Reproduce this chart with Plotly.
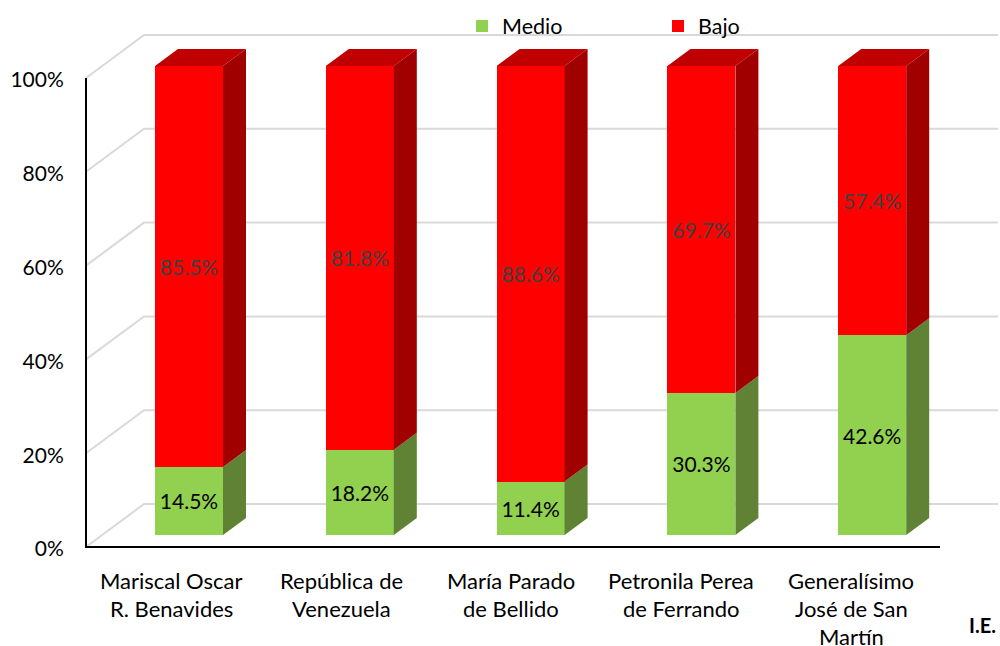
import plotly.graph_objects as go

categories = ["Mariscal Oscar<br>R. Benavides", "República de<br>Venezuela", "María Parado<br>de Bellido",
              "Petronila Perea<br>de Ferrando", "Generalísimo<br>José de San<br>Martín"]
medio = [14.5, 18.2, 11.4, 30.3, 42.6]
bajo = [85.5, 81.8, 88.6, 69.7, 57.4]
y_ticks = [0, 20, 40, 60, 80, 100]

FONT = "Lato"
GREEN, GREEN_SIDE = "#92D050", "#5F8235"
RED, RED_SIDE, RED_TOP = "#FF0000", "#A00000", "#C00000"
GRID = "#D9D9D9"

W, H = 1000, 646
PAD = 6        # spare px left of and below the axis lines so they are not clipped
L, R, T, B = 86 - PAD, 0, 20, 99 - PAD
PX_X = 170.8   # px per category
PX_Y = 4.69    # px per percent
x_range = [-0.5 - PAD / PX_X, -0.5 + (W - 86 - R) / PX_X]
y_range = [-PAD / PX_Y, (H - T - 99) / PX_Y]

# depth of the walls and of the bars, axis units
wall_dx, wall_dy = 58 / PX_X, 43 / PX_Y
bar_dx, bar_dy = 23 / PX_X, 17 / PX_Y
shift_x, shift_y = 17.6 / PX_X, 12 / PX_Y
bar_w = 68 / PX_X
label_step = 170 / PX_X   # the category labels sit a little tighter than the bars
xs = list(range(len(categories)))


def poly(points):
    return [p[0] for p in points] + [None], [p[1] for p in points] + [None]


def add_faces(fig, polys, color):
    px, py = [], []
    for pts in polys:
        a, b = poly(pts)
        px += a
        py += b
    fig.add_trace(go.Scatter(x=px, y=py, xaxis="x2", yaxis="y2", mode="lines", fill="toself",
                             fillcolor=color, line=dict(width=0), hoverinfo="skip", showlegend=False))


fig = go.Figure()

# walls: diagonal on the left plus the back line for every tick
gx, gy = [], []
for t in y_ticks:
    gx += [-0.5, -0.5 + wall_dx, 4.5 + wall_dx, None]
    gy += [t, t + wall_dy, t + wall_dy, None]
fig.add_trace(go.Scatter(x=gx, y=gy, mode="lines", line=dict(color=GRID, width=2),
                         hoverinfo="skip", showlegend=False))

# axis lines
fig.add_trace(go.Scatter(x=[-0.5, -0.5, 4.5], y=[100, 0, 0], mode="lines",
                         line=dict(color="black", width=2), hoverinfo="skip", showlegend=False))

# right hand faces and top of each bar
green_side, red_side, red_top = [], [], []
for i in xs:
    r = i + bar_w / 2
    l = i - bar_w / 2
    v = medio[i]
    green_side.append([(r, 0), (r + bar_dx, bar_dy), (r + bar_dx, v + bar_dy), (r, v)])
    red_side.append([(r, v), (r + bar_dx, v + bar_dy), (r + bar_dx, 100 + bar_dy), (r, 100)])
    red_top.append([(l, 100), (l + bar_dx, 100 + bar_dy), (r + bar_dx, 100 + bar_dy), (r, 100)])
add_faces(fig, green_side, GREEN_SIDE)
add_faces(fig, red_side, RED_SIDE)
add_faces(fig, red_top, RED_TOP)

fig.add_trace(go.Bar(x=xs, y=medio, name="Medio", xaxis="x2", yaxis="y2", width=bar_w,
                     marker=dict(color=GREEN, line=dict(width=0)),
                     texttemplate="%{y:.1f}%", textposition="inside", insidetextanchor="middle",
                     textangle=0, textfont=dict(family=FONT, size=21, color="black")))
fig.add_trace(go.Bar(x=xs, y=bajo, name="Bajo", xaxis="x2", yaxis="y2", width=bar_w,
                     marker=dict(color=RED, line=dict(width=0)),
                     texttemplate="%{y:.1f}%", textposition="inside", insidetextanchor="middle",
                     textangle=0, textfont=dict(family=FONT, size=21, color="#404040")))

fig.update_layout(
    width=W, height=H,
    margin=dict(l=L, r=R, t=T, b=B, pad=0),
    barmode="stack",
    plot_bgcolor="white", paper_bgcolor="white",
    font=dict(family=FONT, size=21, color="black"),
    xaxis=dict(range=x_range, showgrid=False, zeroline=False, showticklabels=False, showline=False),
    yaxis=dict(range=y_range, tickvals=y_ticks, ticktext=[f"{t}%" for t in y_ticks], showgrid=False,
               zeroline=False, showline=False, ticks="outside", ticklen=11, tickcolor="white", tickwidth=0,
               ticklabelshift=2, tickfont=dict(family=FONT, size=21)),
    xaxis2=dict(overlaying="x", range=[x_range[0] - shift_x, x_range[1] - shift_x], visible=False),
    yaxis2=dict(overlaying="y", range=[y_range[0] - shift_y, y_range[1] - shift_y], visible=False),
    legend=dict(orientation="h", x=(462 - L) / (W - L), xanchor="left", y=1 - 6 / (H - T - B), yanchor="middle",
                entrywidth=151, entrywidthmode="pixels", bgcolor="rgba(0,0,0,0)", borderwidth=0,
                font=dict(family=FONT, size=21.5), traceorder="normal"),
)

# category labels, one annotation per line because tick labels have a fixed line height
for i, cat in enumerate(categories):
    for n, line in enumerate(cat.split("<br>")):
        fig.add_annotation(x=i * label_step, xref="x", y=0, yref="y", yshift=-(33 + n * 28), text=line,
                           showarrow=False, xanchor="center", yanchor="middle",
                           font=dict(family=FONT, size=22))

fig.add_annotation(x=(982 - L) / (W - L), xref="paper", y=0, yref="y", yshift=-78, text="<b>I.E.</b>",
                   showarrow=False, xanchor="center", yanchor="middle", font=dict(family=FONT, size=20))

# no body margin, so the figure fills the window exactly
fig.write_html("out.html", config={"displayModeBar": False},
               post_script="document.body.style.margin = '0';")
